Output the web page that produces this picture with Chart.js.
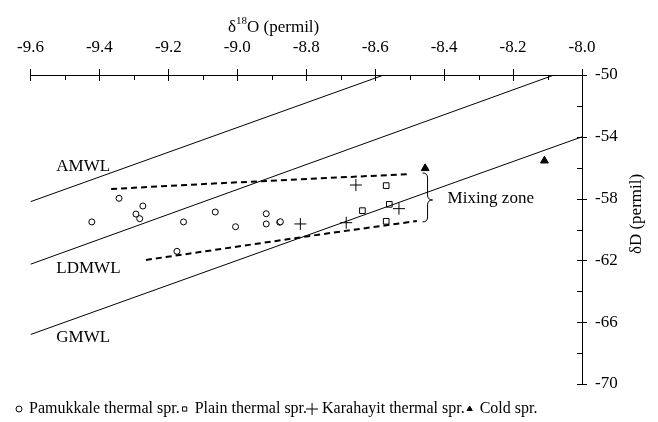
<!DOCTYPE html>
<html lang="en">
<head>
    <meta charset="UTF-8">
    <title>δD vs δ18O</title>
    <style>
        body { margin: 0; padding: 0; background: #fff; }
        .chart-container { position: relative; width: 658px; height: 422px; }
    </style>
    <script src="https://cdn.jsdelivr.net/npm/chart.js"></script>
</head>
<body>
    <div class="chart-container">
        <canvas id="plot" width="658" height="422"></canvas>
    </div>

    <script>
        // values, δ18O and δD in permil
        const pamukkaleO = [-9.422, -9.343, -9.274, -9.294, -9.283, -9.156, -9.064, -9.005, -8.916, -8.916, -8.877, -8.875, -9.175];
        const pamukkaleD = [-59.51, -57.98, -58.48, -59.00, -59.30, -59.51, -58.87, -59.82, -58.98, -59.64, -59.53, -59.50, -61.41];

        const plainO = [-8.568, -8.637, -8.559, -8.568];
        const plainD = [-57.16, -58.78, -58.37, -59.47];

        const karahayitO = [-8.656, -8.531, -8.684, -8.817];
        const karahayitD = [-57.12, -58.65, -59.56, -59.64];

        const coldO = [-8.455, -8.109];
        const coldD = [-56.04, -55.55];

        // meteoric water lines (end points)
        const amwlO = [-9.6, -8.575];
        const amwlD = [-58.2, -50];
        const ldmwlO = [-9.6, -8.081];
        const ldmwlD = [-62.25, -50];
        const gmwlO = [-9.6, -8.0];
        const gmwlD = [-66.8, -54.0];

        // mixing zone boundaries
        const upperO = [-9.366, -9.058, -8.499];
        const upperD = [-57.38, -57.01, -56.41];
        const lowerO = [-9.265, -8.731, -8.479];
        const lowerD = [-61.97, -60.23, -59.45];

        const xTicks = [-9.6, -9.4, -9.2, -9.0, -8.8, -8.6, -8.4, -8.2, -8.0];
        const yTicks = [-70, -66, -62, -58, -54, -50];

        const legendNames = ['Pamukkale thermal spr.', 'Plain thermal spr.', 'Karahayit thermal spr.', 'Cold spr.'];

        const SERIF = '"Liberation Serif", "Times New Roman", serif';

        function zip(xs, ys) {
            return xs.map((x, i) => ({ x: x, y: ys[i] }));
        }

        function lineSet(label, xs, ys, dashed) {
            return {
                label: label,
                data: zip(xs, ys),
                showLine: true,
                borderColor: '#000',
                borderWidth: dashed ? 2 : 1,
                borderDash: dashed ? [6, 4] : [],
                pointRadius: 0,
                fill: false
            };
        }

        const datasets = [
            lineSet('AMWL', amwlO, amwlD, false),
            lineSet('LDMWL', ldmwlO, ldmwlD, false),
            lineSet('GMWL', gmwlO, gmwlD, false),
            lineSet('upper', upperO, upperD, true),
            lineSet('lower', lowerO, lowerD, true),
            {
                label: legendNames[0], data: zip(pamukkaleO, pamukkaleD),
                pointStyle: 'circle', pointRadius: 3, borderWidth: 1,
                borderColor: '#000', backgroundColor: '#fff', legend: true
            },
            {
                label: legendNames[1], data: zip(plainO, plainD),
                pointStyle: 'rect', pointRadius: 4, borderWidth: 1,
                borderColor: '#000', backgroundColor: '#fff', legend: true
            },
            {
                label: legendNames[2], data: zip(karahayitO, karahayitD),
                pointStyle: 'cross', pointRadius: 6, borderWidth: 1,
                borderColor: '#000', backgroundColor: '#000', legend: true
            },
            {
                label: legendNames[3], data: zip(coldO, coldD),
                pointStyle: 'triangle', pointRadius: 4.5, borderWidth: 1,
                borderColor: '#000', backgroundColor: '#000', legend: true
            }
        ];

        // annotation anchors (data units)
        const lineLabels = [
            { text: 'AMWL', x: -9.525, y: -55.9 },
            { text: 'LDMWL', x: -9.525, y: -62.5 },
            { text: 'GMWL', x: -9.525, y: -67.0 }
        ];
        const brace = { x: -8.448, top: -56.34, bottom: -59.51, mid: -58.09 };
        const mixingLabel = { text: 'Mixing zone', x: -8.39, y: -58.0 };

        // tick marks crossing the axes, plus minor ticks inside
        const tickMarks = {
            id: 'tickMarks',
            afterDraw(chart) {
                const ctx = chart.ctx;
                const xs = chart.scales.x, ys = chart.scales.y;
                const area = chart.chartArea;
                ctx.save();
                ctx.strokeStyle = '#000';
                ctx.lineWidth = 1;
                ctx.beginPath();
                xTicks.forEach((v, i) => {
                    const px = Math.round(xs.getPixelForValue(v)) + 0.5;
                    ctx.moveTo(px, area.top - 6);
                    ctx.lineTo(px, area.top + 6);
                    if (i < xTicks.length - 1) {
                        const m = Math.round(xs.getPixelForValue((v + xTicks[i + 1]) / 2)) + 0.5;
                        ctx.moveTo(m, area.top);
                        ctx.lineTo(m, area.top + 5);
                    }
                });
                yTicks.forEach((v, i) => {
                    const py = Math.round(ys.getPixelForValue(v)) + 0.5;
                    ctx.moveTo(area.right - 5, py);
                    ctx.lineTo(area.right + 5, py);
                    if (i < yTicks.length - 1) {
                        const m = Math.round(ys.getPixelForValue((v + yTicks[i + 1]) / 2)) + 0.5;
                        ctx.moveTo(area.right - 5, m);
                        ctx.lineTo(area.right, m);
                    }
                });
                ctx.stroke();
                ctx.restore();
            }
        };

        const extras = {
            id: 'extras',
            afterDraw(chart) {
                const ctx = chart.ctx;
                const xs = chart.scales.x, ys = chart.scales.y;
                ctx.save();
                ctx.fillStyle = '#000';
                ctx.strokeStyle = '#000';

                // line labels
                ctx.font = '17px ' + SERIF;
                ctx.textAlign = 'left';
                ctx.textBaseline = 'middle';
                lineLabels.forEach(l => {
                    ctx.fillText(l.text, xs.getPixelForValue(l.x), ys.getPixelForValue(l.y));
                });
                ctx.fillText(mixingLabel.text, xs.getPixelForValue(mixingLabel.x), ys.getPixelForValue(mixingLabel.y));

                // curly brace
                const bx = xs.getPixelForValue(brace.x);
                const bt = ys.getPixelForValue(brace.top);
                const bb = ys.getPixelForValue(brace.bottom);
                const bm = ys.getPixelForValue(brace.mid);
                ctx.lineWidth = 1;
                ctx.beginPath();
                ctx.moveTo(bx - 5, bt);
                ctx.quadraticCurveTo(bx, bt, bx, bt + 5);
                ctx.lineTo(bx, bm - 5);
                ctx.quadraticCurveTo(bx, bm, bx + 5, bm);
                ctx.quadraticCurveTo(bx, bm, bx, bm + 5);
                ctx.lineTo(bx, bb - 5);
                ctx.quadraticCurveTo(bx, bb, bx - 5, bb);
                ctx.stroke();

                // x axis title with superscript
                ctx.textBaseline = 'alphabetic';
                let tx = 228;
                const ty = 32;
                ctx.font = '17px ' + SERIF;
                ctx.fillText('δ', tx, ty);
                tx += ctx.measureText('δ').width;
                ctx.font = '11px ' + SERIF;
                ctx.fillText('18', tx, ty - 8);
                tx += ctx.measureText('18').width;
                ctx.font = '17px ' + SERIF;
                ctx.fillText('O (permil)', tx, ty);

                // y axis title, reading bottom to top
                ctx.save();
                ctx.translate(637, 214);
                ctx.rotate(-Math.PI / 2);
                ctx.textAlign = 'center';
                ctx.textBaseline = 'middle';
                ctx.fillText('δD (permil)', 0, 0);
                ctx.restore();

                // legend along the bottom
                ctx.font = '16px ' + SERIF;
                ctx.textBaseline = 'middle';
                ctx.textAlign = 'left';
                let lx = 19;
                const ly = 409;
                chart.data.datasets.filter(d => d.legend).forEach(d => {
                    ctx.fillStyle = d.backgroundColor;
                    ctx.strokeStyle = d.borderColor;
                    ctx.lineWidth = 1;
                    Chart.helpers.drawPoint(ctx, {
                        pointStyle: d.pointStyle,
                        radius: d.pointStyle === 'cross' ? 6 : 3,
                        borderWidth: 1,
                        rotation: 0
                    }, lx, ly);
                    ctx.fillStyle = '#000';
                    ctx.fillText(d.label, lx + 10, ly);
                    lx += 10 + ctx.measureText(d.label).width + 5;
                });

                ctx.restore();
            }
        };

        const ctx = document.getElementById('plot').getContext('2d');
        new Chart(ctx, {
            type: 'scatter',
            data: { datasets: datasets },
            options: {
                responsive: false,
                animation: false,
                events: [],
                layout: { padding: { left: 29, right: 0, top: 0, bottom: 38 } },
                plugins: {
                    legend: { display: false },
                    tooltip: { enabled: false }
                },
                scales: {
                    x: {
                        type: 'linear',
                        position: 'top',
                        min: -9.6,
                        max: -8.0,
                        afterBuildTicks: s => { s.ticks = xTicks.map(v => ({ value: v })); },
                        afterFit: s => { s.height = 75; },
                        grid: { drawOnChartArea: false, drawTicks: false },
                        border: { display: true, color: '#000', width: 1 },
                        ticks: {
                            padding: 17,
                            color: '#000',
                            font: { family: SERIF, size: 17 },
                            maxRotation: 0,
                            callback: v => v.toFixed(1)
                        }
                    },
                    y: {
                        type: 'linear',
                        position: 'right',
                        min: -70,
                        max: -50,
                        afterBuildTicks: s => { s.ticks = yTicks.map(v => ({ value: v })); },
                        afterFit: s => { s.width = 76; },
                        grid: { drawOnChartArea: false, drawTicks: false },
                        border: { display: true, color: '#000', width: 1 },
                        ticks: {
                            padding: 13,
                            color: '#000',
                            font: { family: SERIF, size: 17 },
                            callback: v => String(v)
                        }
                    }
                }
            },
            plugins: [tickMarks, extras]
        });
    </script>
</body>
</html>
